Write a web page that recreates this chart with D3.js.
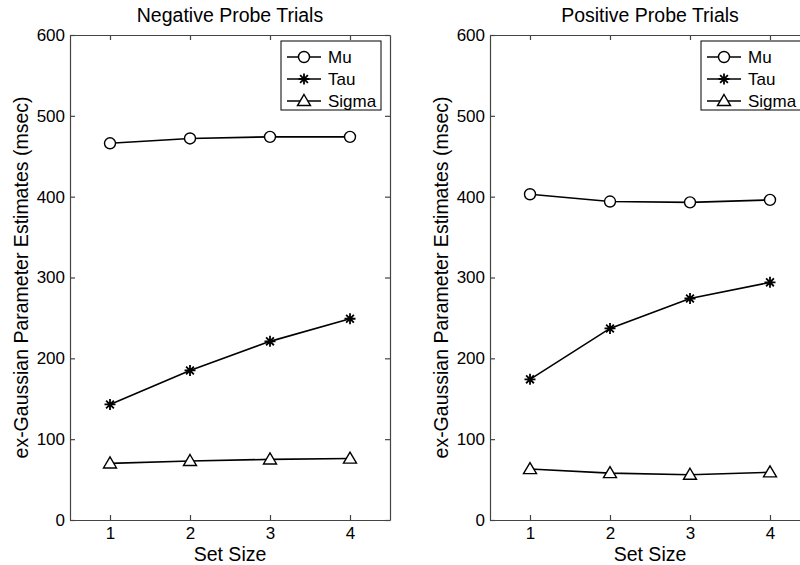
<!DOCTYPE html>
<html>
<head>
<meta charset="utf-8">
<script src="https://cdn.jsdelivr.net/npm/d3@7"></script>
<style>
  body { margin: 0; background: #fff; }
  svg { font-family: "Liberation Sans", Arial, sans-serif; }
</style>
</head>
<body>
<svg id="chart" width="800" height="565"></svg>
<script>
// set sizes on the x axis
const setSizes = [1, 2, 3, 4];
const yTicks = [0, 100, 200, 300, 400, 500, 600];
const seriesNames = ["Mu", "Tau", "Sigma"];

// negative probe trials
const negMu = [466, 472, 474, 474];
const negTau = [143, 185, 221, 249];
const negSigma = [70, 73, 75, 76];

// positive probe trials
const posMu = [403, 394, 393, 396];
const posTau = [174, 237, 274, 294];
const posSigma = [63, 58, 56, 59];

let chart = d3.select("#chart");

function starPath(r) {
    let p = "";
    for (let i = 0; i < 4; i++) {
        let a = i * Math.PI / 4;
        let dx = r * Math.cos(a), dy = r * Math.sin(a);
        p += "M" + (-dx) + "," + (-dy) + "L" + dx + "," + dy;
    }
    return p;
}

function drawMarker(g, kind, x, y) {
    if (kind === "Mu") {
        g.append("circle").attr("cx", x).attr("cy", y).attr("r", 5.5)
            .attr("fill", "#fff").attr("stroke", "#000").attr("stroke-width", 1.4);
    } else if (kind === "Tau") {
        g.append("path").attr("d", starPath(5.5))
            .attr("transform", "translate(" + x + "," + y + ")")
            .attr("stroke", "#000").attr("stroke-width", 1.8);
    } else {
        let s = 6.5;
        g.append("path")
            .attr("d", "M0," + (-s) + "L" + s + "," + (s * 0.7) + "L" + (-s) + "," + (s * 0.7) + "Z")
            .attr("transform", "translate(" + x + "," + y + ")")
            .attr("fill", "#fff").attr("stroke", "#000").attr("stroke-width", 1.4);
    }
}

function drawPanel(left, title, series, legendX, legendW) {
    let right = left + 320, top = 35, bottom = 520;
    let xScale = d3.scaleLinear().domain([0.5, 4.5]).range([left, right]);
    let yScale = d3.scaleLinear().domain([0, 600]).range([bottom, top]);
    let g = chart.append("g");

    // inward ticks on all four sides, MATLAB style
    g.append("g").attr("transform", "translate(0," + bottom + ")")
        .call(d3.axisBottom(xScale).tickValues(setSizes).tickFormat(d3.format("d"))
            .tickSizeInner(-5).tickSizeOuter(0).tickPadding(7));
    g.append("g").attr("transform", "translate(0," + top + ")")
        .call(d3.axisTop(xScale).tickValues(setSizes).tickSizeInner(-5).tickSizeOuter(0).tickFormat(""));
    g.append("g").attr("transform", "translate(" + left + ",0)")
        .call(d3.axisLeft(yScale).tickValues(yTicks).tickFormat(d3.format("d"))
            .tickSizeInner(-5).tickSizeOuter(0).tickPadding(5));
    g.append("g").attr("transform", "translate(" + right + ",0)")
        .call(d3.axisRight(yScale).tickValues(yTicks).tickSizeInner(-5).tickSizeOuter(0).tickFormat(""));
    g.selectAll(".domain, .tick line").attr("stroke", "#444").attr("stroke-width", 1.2);
    g.selectAll(".tick text").attr("font-size", 17).attr("fill", "#000")
        .attr("font-family", "Liberation Sans, Arial, sans-serif");

    g.append("text").text(title)
        .attr("x", (left + right) / 2).attr("y", 22)
        .style("text-anchor", "middle").attr("font-size", 19.5);
    g.append("text").text("Set Size")
        .attr("x", (left + right) / 2).attr("y", 561)
        .style("text-anchor", "middle").attr("font-size", 19.5);
    g.append("text").text("ex-Gaussian Parameter Estimates (msec)")
        .attr("transform", "translate(" + (left - 42) + "," + ((top + bottom) / 2) + ") rotate(-90)")
        .style("text-anchor", "middle").attr("font-size", 19.5);

    let line = d3.line().x((d, i) => xScale(setSizes[i])).y(d => yScale(d));
    seriesNames.forEach((name, k) => {
        let vals = series[k];
        g.append("path").attr("d", line(vals))
            .attr("fill", "none").attr("stroke", "#000").attr("stroke-width", 1.6);
        vals.forEach((v, i) => drawMarker(g, name, xScale(setSizes[i]), yScale(v)));
    });

    // legend
    let lg = g.append("g").attr("transform", "translate(" + legendX + ",41)");
    lg.append("rect").attr("width", legendW).attr("height", 69)
        .attr("fill", "#fff").attr("stroke", "#000").attr("stroke-width", 1);
    seriesNames.forEach((name, k) => {
        let y = 16 + k * 22;
        lg.append("line").attr("x1", 6).attr("x2", 40).attr("y1", y).attr("y2", y)
            .attr("stroke", "#000").attr("stroke-width", 1.6);
        drawMarker(lg, name, 23, y);
        lg.append("text").text(name).attr("x", 47).attr("y", y + 6).attr("font-size", 17);
    });
}

drawPanel(70, "Negative Probe Trials", [negMu, negTau, negSigma], 281, 100);
drawPanel(490, "Positive Probe Trials", [posMu, posTau, posSigma], 701, 106);
</script>
</body>
</html>
